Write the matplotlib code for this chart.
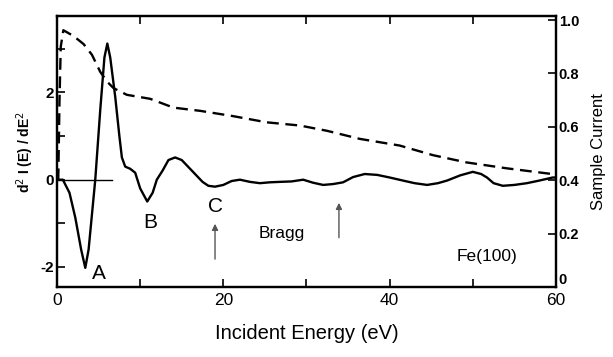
import matplotlib
matplotlib.use("Agg")
import matplotlib.pyplot as plt

plt.rcParams['font.family'] = ['Liberation Sans', 'DejaVu Sans']

# d2I/dE2 (left axis)
energy_d2 = [0, 0.7, 1.5, 2.2, 2.9, 3.4, 3.8, 4.6, 5.2, 5.7, 6.05, 6.4, 7.0, 7.5, 7.8,
             8.2, 8.8, 9.4, 10.0, 10.85, 11.5, 12.0, 12.7, 13.4, 14.2, 15.0, 16.0, 16.8,
             17.5, 18.2, 19.0, 20.0, 21.0, 22.0, 23.2, 24.4, 25.6, 26.8, 28.2, 29.6, 30.8,
             32.0, 33.2, 34.4, 35.6, 37.0, 38.5, 40.0, 41.6, 43.0, 44.5, 45.8, 46.9, 48.5,
             50.0, 51.0, 51.7, 52.5, 53.6, 55.0, 56.5, 58.0, 59.6, 60.0]
d2I = [0, 0, -0.3, -0.87, -1.6, -2.02, -1.6, 0, 1.6, 2.8, 3.12, 2.8, 1.9, 1.0, 0.51,
       0.3, 0.25, 0.16, -0.2, -0.5, -0.3, 0.0, 0.21, 0.45, 0.51, 0.45, 0.25, 0.09,
       -0.05, -0.14, -0.16, -0.12, -0.03, 0.0, -0.05, -0.08, -0.06, -0.05, -0.04, 0.0, -0.07,
       -0.12, -0.1, -0.06, 0.06, 0.13, 0.11, 0.05, -0.02, -0.08, -0.12, -0.08, -0.02, 0.1,
       0.18, 0.13, 0.05, -0.08, -0.14, -0.12, -0.08, -0.02, 0.05, 0.05]

# Sample current (right axis)
energy_sc = [0.15, 0.3, 0.45, 0.76, 2.0, 3.2, 4.2, 5.2, 6.0, 6.8, 8.4, 11.2, 14.0, 17.2,
             21.2, 25.2, 29.2, 32.5, 36.4, 41.2, 45.2, 49.2, 54.0, 59.6]
sample_current = [0.40, 0.70, 0.90, 0.962, 0.94, 0.91, 0.87, 0.806, 0.77, 0.745, 0.72, 0.705,
                  0.672, 0.66, 0.64, 0.617, 0.605, 0.585, 0.555, 0.53, 0.494, 0.467, 0.445, 0.423]

x_ticks = [0, 10, 20, 30, 40, 50, 60]
x_labels = ['0', '', '20', '', '40', '', '60']
yl_ticks = [-2, -1, 0, 1, 2, 3]
yl_labels = ['-2', '', '0', '', '2', '']
yr_ticks = [0, 0.2, 0.4, 0.6, 0.8, 1.0]
yr_labels = ['0', '0.2', '0.4', '0.6', '0.8', '1.0']
baseline_end = 6.6

fig = plt.figure(figsize=(6.13, 3.57), dpi=100)
ax = fig.add_axes([0.093, 0.196, 0.814, 0.759])
ax.plot(energy_d2, d2I, color='black', lw=1.7, solid_joinstyle='round')
ax.plot([0, baseline_end], [0, 0], color='black', lw=1.0)
ax.set_xlim(0, 60)
ax.set_ylim(-2.46, 3.75)
ax.set_xticks(x_ticks)
ax.set_xticklabels(x_labels, fontsize=12.5)
ax.set_yticks(yl_ticks)
ax.set_yticklabels(yl_labels, fontsize=11, fontweight='bold')
ax.tick_params(direction='in', length=6, width=1.2, top=True, pad=4)
ax.tick_params(axis='y', pad=2)
for s in ax.spines.values():
    s.set_linewidth(1.6)
ax.set_xlabel('Incident Energy (eV)', fontsize=14.5, labelpad=12)
ax.set_ylabel('d$^2$ I (E) / dE$^2$', fontsize=10, fontweight='bold', labelpad=3)

ax2 = ax.twinx()
ax2.plot(energy_sc, sample_current, color='black', lw=1.7, dashes=(5, 2.8))
ax2.set_ylim(0.012, 1.015)
ax2.set_yticks(yr_ticks)
ax2.set_yticklabels(yr_labels, fontsize=10.5, fontweight='bold')
ax2.get_yticklabels()[0].set_verticalalignment('bottom')
ax2.tick_params(direction='in', length=6, width=1.2, pad=2)
ax2.set_ylabel('Sample Current', fontsize=12, labelpad=8)
for s in ax2.spines.values():
    s.set_linewidth(1.6)

# annotations
ax.text(5.05, -2.14, 'A', fontsize=15, ha='center', va='center')
ax.text(11.2, -0.99, 'B', fontsize=15, ha='center', va='center')
ax.text(19.0, -0.62, 'C', fontsize=15, ha='center', va='center')
ax.text(27.0, -1.24, 'Bragg', fontsize=12.5, ha='center', va='center')
ax.text(51.7, -1.75, 'Fe(100)', fontsize=12.5, ha='center', va='center')
arrow_kw = dict(arrowstyle='-|>', color='#555555', lw=1.0, mutation_scale=9, shrinkA=0, shrinkB=0)
ax.annotate('', xy=(19.0, -1.01), xytext=(19.0, -1.82), arrowprops=arrow_kw)
ax.annotate('', xy=(33.9, -0.53), xytext=(33.9, -1.33), arrowprops=arrow_kw)

fig.savefig('out.png', dpi=100)
